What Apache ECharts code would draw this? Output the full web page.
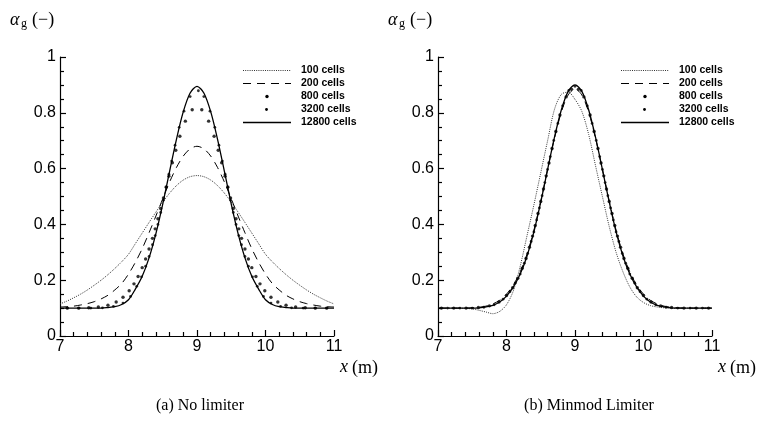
<!DOCTYPE html>
<html>
<head>
<meta charset="utf-8">
<script src="https://cdn.jsdelivr.net/npm/echarts@6/dist/echarts.min.js"></script>
<style>
  html, body { margin: 0; padding: 0; background: #fff; }
  #chart { width: 757px; height: 424px; }
</style>
</head>
<body>
<div id="chart"></div>
<script>
// Void fraction profiles on x = 7..11 m (step 0.1 m) for the line series
const xGrid = [7.0,7.1,7.2,7.3,7.4,7.5,7.6,7.7,7.8,7.9,
               8.0,8.1,8.2,8.3,8.4,8.5,8.6,8.7,8.8,8.9,
               9.0,
               9.1,9.2,9.3,9.4,9.5,9.6,9.7,9.8,9.9,10.0,
               10.1,10.2,10.3,10.4,10.5,10.6,10.7,10.8,10.9,11.0];

// (a) No limiter
const noLim100 = [.115,.125,.137,.150,.165,.182,.200,.220,.242,.266,
                  .293,.331,.369,.407,.444,.480,.512,.539,.559,.571,
                  .575,
                  .571,.559,.539,.512,.480,.444,.407,.369,.331,.293,
                  .266,.242,.220,.200,.182,.165,.150,.137,.125,.115];
const noLim200 = [.104,.105,.107,.111,.116,.123,.133,.146,.165,.188,
                  .222,.264,.313,.370,.430,.492,.552,.604,.645,.671,
                  .680,
                  .671,.645,.604,.552,.492,.430,.370,.313,.264,.222,
                  .188,.165,.146,.133,.123,.116,.111,.107,.105,.104];
const noLim12800 = [.100,.100,.100,.100,.100,.100,.100,.102,.105,.113,
                    .130,.168,.214,.280,.367,.473,.590,.705,.804,.871,
                    .895,
                    .871,.804,.705,.590,.473,.367,.280,.214,.168,.130,
                    .113,.105,.102,.100,.100,.100,.100,.100,.100,.100];
const noLim800X = [7.11,7.27,7.42,7.56,7.70,7.82,7.92,8.01,8.08,8.14,8.20,8.25,8.30,8.35,8.39,8.43,8.47,8.51,8.55,8.59,8.64,8.69,8.75,8.83,8.93,
                   9.07,9.17,9.25,9.31,9.36,9.41,9.45,9.49,9.53,9.57,9.61,9.65,9.70,9.75,9.80,9.86,9.92,9.99,10.08,10.18,10.30,10.44,10.58,10.73,10.89];
const noLim800Y = [.100,.100,.101,.104,.110,.122,.139,.162,.187,.213,.245,.276,.312,.350,.384,.420,.457,.495,.534,.573,.621,.666,.716,.770,.811,
                   .811,.770,.716,.666,.621,.573,.534,.495,.457,.420,.384,.350,.312,.276,.245,.213,.187,.162,.139,.122,.110,.104,.101,.100,.100];
const noLim3200X = [7.10,7.28,7.45,7.62,7.78,7.92,8.03,8.12,8.19,8.25,8.30,8.35,8.39,8.43,8.47,8.51,8.55,8.59,8.63,8.68,8.74,8.81,8.90,
                    9.02,
                    9.10,9.19,9.26,9.32,9.37,9.41,9.45,9.49,9.53,9.57,9.61,9.65,9.70,9.75,9.81,9.88,9.97,10.08,10.22,10.38,10.55,10.72,10.90];
const noLim3200Y = [.100,.100,.100,.101,.106,.118,.142,.178,.212,.250,.285,.327,.360,.400,.443,.487,.533,.580,.627,.684,.748,.806,.858,
                    .879,
                    .858,.806,.748,.684,.627,.580,.533,.487,.443,.400,.360,.327,.285,.250,.212,.178,.142,.118,.106,.101,.100,.100,.100];

// (b) Minmod limiter
const minmod100 = [.100,.100,.100,.100,.099,.097,.092,.086,.080,.088,
                   .112,.162,.250,.360,.470,.585,.700,.812,.866,.874,
                   .848,
                   .805,.722,.610,.500,.392,.300,.230,.176,.140,.120,
                   .109,.104,.101,.100,.100,.100,.100,.100,.100,.100];
const minmod200 = [.100,.100,.100,.100,.100,.101,.103,.107,.115,.128,
                   .150,.183,.230,.294,.379,.483,.597,.708,.802,.864,
                   .885,
                   .864,.802,.708,.597,.483,.379,.294,.230,.183,.150,
                   .128,.115,.107,.103,.101,.100,.100,.100,.100,.100];
const minmod12800 = [.100,.100,.100,.100,.100,.100,.101,.104,.110,.122,
                     .143,.176,.222,.287,.373,.480,.597,.712,.810,.877,
                     .900,
                     .877,.810,.712,.597,.480,.373,.287,.222,.176,.143,
                     .122,.110,.104,.101,.100,.100,.100,.100,.100,.100];
const minmod800X = [7.05,7.23,7.41,7.59,7.75,7.89,8.00,8.09,8.165,8.23,8.285,8.335,8.38,8.42,8.46,8.50,8.54,8.58,8.62,8.665,8.72,8.78,8.87,8.95,
                    9.05,9.13,9.22,9.28,9.335,9.38,9.42,9.46,9.50,9.54,9.58,9.62,9.665,9.715,9.77,9.835,9.91,10.00,10.11,10.25,10.41,10.59,10.77,10.95];
const minmod800Y = [.100,.100,.100,.102,.108,.122,.145,.173,.207,.243,.278,.318,.358,.396,.439,.482,.527,.574,.620,.672,.733,.792,.857,.884,
                    .884,.857,.792,.733,.672,.620,.574,.527,.482,.439,.396,.358,.318,.278,.243,.207,.173,.145,.122,.108,.102,.100,.100,.100];
const minmod3200X = [7.14,7.32,7.50,7.67,7.82,7.95,8.05,8.13,8.20,8.26,8.31,8.36,8.40,8.44,8.48,8.52,8.56,8.60,8.64,8.69,8.75,8.82,8.91,
                     9.00,
                     9.09,9.18,9.25,9.31,9.36,9.40,9.44,9.48,9.52,9.56,9.60,9.64,9.69,9.74,9.80,9.87,9.95,10.05,10.18,10.33,10.50,10.68,10.86];
const minmod3200Y = [.100,.100,.100,.103,.112,.132,.159,.190,.222,.261,.296,.339,.373,.416,.459,.503,.550,.597,.643,.701,.762,.825,.880,
                     .895,
                     .880,.825,.762,.701,.643,.597,.550,.503,.459,.416,.373,.339,.296,.261,.222,.190,.159,.132,.112,.103,.100,.100,.100];

const seriesNames = ['100 cells', '200 cells', '800 cells', '3200 cells', '12800 cells'];
const yTickLabels = ['0', '0.2', '0.4', '0.6', '0.8', '1'];
const xTickLabels = ['7', '8', '9', '10', '11'];
const captions = ['(a) No limiter', '(b) Minmod Limiter'];

const zip = (xs, ys) => xs.map((x, i) => [x, ys[i]]);

const SANS = '"Liberation Sans", Arial, Helvetica, sans-serif';
const SERIF = '"Liberation Serif", "Times New Roman", serif';

const panels = [
  { left: 60,  l100: noLim100, l200: noLim200, x800: noLim800X, y800: noLim800Y, x3200: noLim3200X, y3200: noLim3200Y, l12800: noLim12800 },
  { left: 438, l100: minmod100, l200: minmod200, x800: minmod800X, y800: minmod800Y, x3200: minmod3200X, y3200: minmod3200Y, l12800: minmod12800 }
];
const GRID_TOP = 57, GRID_W = 274, GRID_H = 279;

const grids = [], xAxes = [], yAxes = [], series = [], graphics = [];

panels.forEach((p, k) => {
  grids.push({ left: p.left, top: GRID_TOP, width: GRID_W, height: GRID_H });
  xAxes.push({
    type: 'value', gridIndex: k, min: 7, max: 11, interval: 1,
    axisLine: { show: true, onZero: false, lineStyle: { color: '#000', width: 1.2 } },
    axisTick: { show: true, inside: true, length: 6, lineStyle: { color: '#000', width: 1.2 } },
    minorTick: { show: true, splitNumber: 5, length: 4, lineStyle: { color: '#000', width: 1.2 } },
    splitLine: { show: false },
    axisLabel: {
      color: '#000', fontSize: 16, fontFamily: SANS, margin: 3,
      formatter: v => xTickLabels[Math.round(v - 7)]
    }
  });
  yAxes.push({
    type: 'value', gridIndex: k, min: 0, max: 1, interval: 0.2,
    axisLine: { show: true, onZero: false, lineStyle: { color: '#000', width: 1.2 } },
    axisTick: { show: true, inside: true, length: 6, lineStyle: { color: '#000', width: 1.2 } },
    minorTick: { show: true, splitNumber: 4, length: 4, lineStyle: { color: '#000', width: 1.2 } },
    splitLine: { show: false },
    axisLabel: {
      color: '#000', fontSize: 16, fontFamily: SANS, margin: 4,
      formatter: v => yTickLabels[Math.round(v * 5)]
    }
  });

  const common = { xAxisIndex: k, yAxisIndex: k, animation: false, silent: true };
  series.push({
    ...common, name: seriesNames[0], type: 'line', symbol: 'none', smooth: 0.3,
    data: zip(xGrid, p.l100),
    lineStyle: { color: '#333', width: 1, type: [1, 1.2] }
  });
  series.push({
    ...common, name: seriesNames[1], type: 'line', symbol: 'none', smooth: 0.3,
    data: zip(xGrid, p.l200),
    lineStyle: { color: '#000', width: 1, type: [8, 6] }
  });
  series.push({
    ...common, name: seriesNames[4], type: 'line', symbol: 'none', smooth: 0.3,
    data: zip(xGrid, p.l12800),
    lineStyle: { color: '#000', width: 1.3 }
  });
  series.push({
    ...common, name: seriesNames[2], type: 'scatter', symbol: 'circle', symbolSize: 3.4,
    data: zip(p.x800, p.y800), itemStyle: { color: '#000' }
  });
  series.push({
    ...common, name: seriesNames[3], type: 'scatter', symbol: 'circle', symbolSize: 2.8,
    data: zip(p.x3200, p.y3200), itemStyle: { color: '#000' }
  });

  // Legend block
  const lx0 = p.left + 183, lx1 = lx0 + 48, tx = p.left + 241;
  const rows = [70.5, 83.5, 96.5, 109.5, 122.5];
  graphics.push({ type: 'line', shape: { x1: lx0, y1: rows[0], x2: lx1, y2: rows[0] },
                  style: { stroke: '#333', lineWidth: 1, lineDash: [1, 1.2] } });
  graphics.push({ type: 'line', shape: { x1: lx0, y1: rows[1], x2: lx1, y2: rows[1] },
                  style: { stroke: '#000', lineWidth: 1, lineDash: [8, 6] } });
  graphics.push({ type: 'circle', shape: { cx: (lx0 + lx1) / 2, cy: rows[2], r: 1.7 }, style: { fill: '#000' } });
  graphics.push({ type: 'circle', shape: { cx: (lx0 + lx1) / 2 - 0.5, cy: rows[3], r: 1.4 }, style: { fill: '#000' } });
  graphics.push({ type: 'line', shape: { x1: lx0, y1: rows[4], x2: lx1, y2: rows[4] },
                  style: { stroke: '#000', lineWidth: 1.3 } });
  seriesNames.forEach((n, i) => {
    graphics.push({ type: 'text', style: {
      text: n, x: tx, y: rows[i], fill: '#000', align: 'left', verticalAlign: 'middle',
      font: 'bold 10.5px ' + SANS } });
  });

  // Axis titles
  const ax = p.left - 50;
  graphics.push({ type: 'text', style: { text: 'α', x: ax, y: 20, fill: '#000', align: 'left', verticalAlign: 'middle',
                  font: 'italic 18px ' + SERIF } });
  graphics.push({ type: 'text', style: { text: 'g', x: ax + 11, y: 24, fill: '#000', align: 'left', verticalAlign: 'middle',
                  font: '12px ' + SERIF } });
  graphics.push({ type: 'text', style: { text: '(−)', x: ax + 22, y: 20, fill: '#000', align: 'left', verticalAlign: 'middle',
                  font: '18px ' + SERIF } });
  const xr = p.left + GRID_W + 44;
  graphics.push({ type: 'text', style: { text: '(m)', x: xr, y: 368, fill: '#000', align: 'right', verticalAlign: 'middle',
                  font: '18px ' + SERIF } });
  graphics.push({ type: 'text', style: { text: 'x', x: xr - 30, y: 367, fill: '#000', align: 'right', verticalAlign: 'middle',
                  font: 'italic 18px ' + SERIF } });

  // Caption
  const cx = k === 0 ? 200 : 589;
  graphics.push({ type: 'text', style: { text: captions[k], x: cx, y: 406, fill: '#000', align: 'center', verticalAlign: 'middle',
                  font: '16px ' + SERIF } });
});

const chart = echarts.init(document.getElementById('chart'), null, { renderer: 'canvas' });
chart.setOption({
  animation: false,
  backgroundColor: '#fff',
  grid: grids,
  xAxis: xAxes,
  yAxis: yAxes,
  series: series,
  graphic: graphics
});
</script>
</body>
</html>
